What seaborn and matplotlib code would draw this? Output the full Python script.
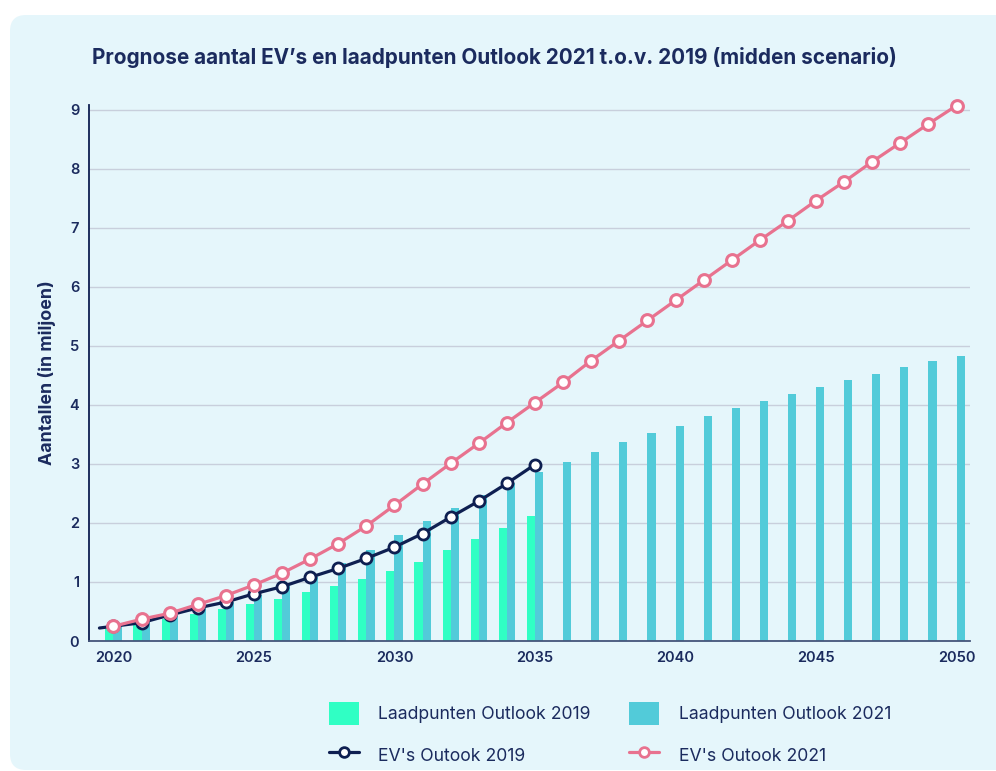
import numpy as np
import pandas as pd
import matplotlib.pyplot as plt
import seaborn as sns
from matplotlib.patches import FancyBboxPatch, Patch
from matplotlib.lines import Line2D

# Data (values in millions)
years_2019 = list(range(2020, 2036))
years_2021 = list(range(2020, 2051))

laadpunten_2019 = [0.20, 0.27, 0.37, 0.46, 0.54, 0.63, 0.72, 0.83, 0.93, 1.05,
                   1.18, 1.34, 1.54, 1.72, 1.91, 2.11]
laadpunten_2021 = [0.24, 0.32, 0.44, 0.56, 0.66, 0.78, 0.93, 1.09, 1.32, 1.54,
                   1.79, 2.03, 2.26, 2.47, 2.67, 2.86, 3.04, 3.21, 3.37, 3.52,
                   3.65, 3.81, 3.94, 4.06, 4.18, 4.30, 4.42, 4.52, 4.64, 4.74,
                   4.82]

ev_years_2019 = [2019.5] + years_2019
ev_2019 = [0.22, 0.25, 0.31, 0.44, 0.56, 0.66, 0.80, 0.92, 1.08, 1.23, 1.40,
           1.59, 1.82, 2.10, 2.37, 2.67, 2.99]
ev_2021 = [0.25, 0.37, 0.47, 0.62, 0.77, 0.95, 1.15, 1.39, 1.65, 1.95,
           2.30, 2.66, 3.01, 3.35, 3.70, 4.04, 4.38, 4.75, 5.09, 5.43,
           5.77, 6.11, 6.45, 6.79, 7.12, 7.46, 7.78, 8.12, 8.44, 8.76,
           9.07]

labels = ['Laadpunten Outlook 2019', 'Laadpunten Outlook 2021',
          "EV's Outook 2019", "EV's Outook 2021"]

GREEN = '#30ffc4'
CYAN = '#52cbd9'
NAVY = '#0e1f51'
PINK = '#e8728f'
TEXT = '#1b2b5e'
PANEL = '#e5f6fb'

sns.set_theme(style='white')
plt.rcParams['font.family'] = ['Inter', 'DejaVu Sans']

bars = pd.concat([
    pd.DataFrame({'jaar': years_2019, 'waarde': laadpunten_2019, 'reeks': labels[0]}),
    pd.DataFrame({'jaar': years_2021, 'waarde': laadpunten_2021, 'reeks': labels[1]}),
])

fig = plt.figure(figsize=(9.96, 7.71), dpi=100, facecolor='white')

# light rounded panel behind everything (display pixel coords)
panel = FancyBboxPatch((10, 1), 1010, 755, boxstyle='round,pad=0,rounding_size=16',
                       transform=None, facecolor=PANEL, edgecolor='none', zorder=-10)
fig.patches.append(panel)

ax = fig.add_axes([0.0894, 0.1686, 0.8845, 0.6952])
ax.set_facecolor('none')

sns.barplot(data=bars, x='jaar', y='waarde', hue='reeks', native_scale=True,
            palette=[GREEN, CYAN], width=0.58, gap=0, errorbar=None,
            saturation=1, legend=False, linewidth=0, edgecolor='none',
            ax=ax, zorder=2)

sns.lineplot(x=ev_years_2019, y=ev_2019, color=NAVY, linewidth=2.3, marker='o',
             markersize=8, markerfacecolor='white', markeredgecolor=NAVY,
             markeredgewidth=2, markevery=list(range(1, len(ev_2019))),
             ax=ax, zorder=3)
sns.lineplot(x=years_2021, y=ev_2021, color=PINK, linewidth=2.3, marker='o',
             markersize=8.5, markerfacecolor='white', markeredgecolor=PINK,
             markeredgewidth=2.2, ax=ax, zorder=4, clip_on=False)

ax.set_xlim(2019.13, 2050.48)
ax.set_ylim(0, 9.08)
ax.set_xticks([2020, 2025, 2030, 2035, 2040, 2045, 2050])
ax.set_yticks(range(0, 10))
ax.tick_params(length=0, pad=7, labelsize=10.5, labelcolor=TEXT)
for t in ax.get_xticklabels() + ax.get_yticklabels():
    t.set_fontweight('semibold')

ax.yaxis.grid(True, color='#c8cfdc', linewidth=1)
ax.set_axisbelow(True)
sns.despine(ax=ax)
ax.spines['left'].set_color(NAVY)
ax.spines['left'].set_linewidth(1.3)
ax.spines['bottom'].set_color('#44557a')
ax.spines['bottom'].set_linewidth(1.3)

ax.set_xlabel('')
ax.set_ylabel('Aantallen (in miljoen)', fontsize=12.8, fontweight='bold',
              color=TEXT, labelpad=10)

fig.text(0.0924, 0.926, 'Prognose aantal EV\u2019s en laadpunten Outlook 2021 t.o.v. 2019 (midden scenario)',
         fontsize=14.9, fontweight='bold', color=TEXT, va='center', ha='left')

handles = [
    Patch(facecolor=GREEN, edgecolor='none'),
    Line2D([], [], color=NAVY, linewidth=2.3, marker='o', markersize=7,
           markerfacecolor='white', markeredgecolor=NAVY, markeredgewidth=2),
    Patch(facecolor=CYAN, edgecolor='none'),
    Line2D([], [], color=PINK, linewidth=2.3, marker='o', markersize=7,
           markerfacecolor='white', markeredgecolor=PINK, markeredgewidth=2),
]
fig.legend(handles, [labels[0], labels[2], labels[1], labels[3]], ncol=2,
           loc='upper left', bbox_to_anchor=(0.330, 0.090), frameon=False,
           fontsize=12.7, labelcolor=TEXT, handlelength=1.7, handleheight=1.65,
           handletextpad=1.1, columnspacing=2.2, labelspacing=1.05,
           borderaxespad=0, borderpad=0)

fig.savefig('out.png', dpi=100, facecolor='white')
